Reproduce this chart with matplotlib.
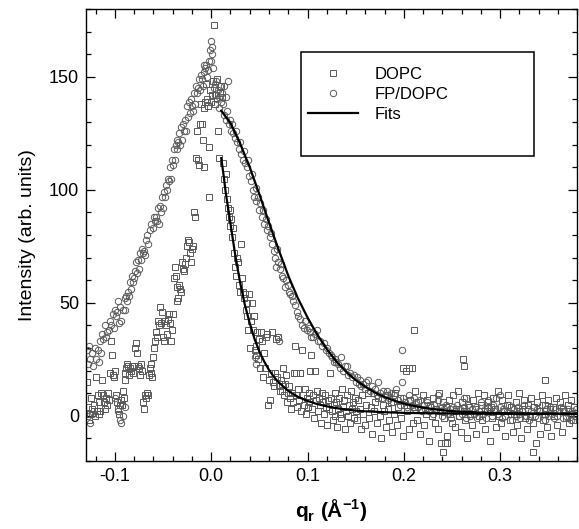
import matplotlib
matplotlib.use('Agg')
import matplotlib.pyplot as plt
from matplotlib.lines import Line2D
from matplotlib.patches import Rectangle
from matplotlib.ticker import MultipleLocator

plt.rcParams['font.family'] = ['Liberation Sans', 'DejaVu Sans']
plt.rcParams['mathtext.fontset'] = 'custom'
plt.rcParams['mathtext.rm'] = 'Liberation Sans'
plt.rcParams['mathtext.bf'] = 'Liberation Sans:bold'

# FP/DOPC (circles)
fp_rise_q = [
    -0.129, -0.128, -0.127, -0.126, -0.124, -0.123, -0.121, -0.120, -0.118, -0.117,
    -0.115, -0.114, -0.113, -0.112, -0.110, -0.109, -0.108, -0.106, -0.105, -0.104,
    -0.102, -0.101, -0.100, -0.099, -0.098, -0.097, -0.096, -0.095, -0.094, -0.092,
    -0.090, -0.089, -0.088, -0.087, -0.086, -0.085, -0.084, -0.083, -0.082, -0.081,
    -0.080, -0.079, -0.078, -0.077, -0.076, -0.075, -0.074, -0.073, -0.072, -0.071,
    -0.070, -0.069, -0.068, -0.067, -0.066, -0.064, -0.062, -0.060, -0.059, -0.058,
    -0.057, -0.056, -0.055, -0.054, -0.053, -0.052, -0.051, -0.050, -0.049, -0.048,
    -0.047, -0.046, -0.045, -0.044, -0.043, -0.042, -0.041, -0.040, -0.039, -0.038,
    -0.037, -0.036, -0.035, -0.034, -0.033, -0.032, -0.031, -0.030, -0.029, -0.028,
    -0.027, -0.026, -0.025, -0.024, -0.023, -0.022, -0.021, -0.020, -0.019, -0.018,
    -0.017, -0.016, -0.015, -0.014, -0.013, -0.012, -0.011, -0.010, -0.009, -0.008,
    -0.007, -0.006, -0.005, -0.004, -0.003, -0.002, -0.001, 0.000, 0.001, 0.002,
    0.003, 0.004, 0.005, 0.006, 0.007, 0.008, 0.009, 0.010, 0.011, 0.012]
fp_rise_i = [
    29, 23, 31, 25, 28, 22, 30, 25, 29, 24,
    33, 28, 36, 34, 40, 35, 37, 38, 42, 40,
    45, 39, 47, 44, 46, 51, 41, 48, 42, 47,
    52, 47, 53, 51, 55, 53, 59, 56, 62, 59,
    61, 64, 68, 63, 69, 65, 72, 69, 74, 72,
    73, 71, 78, 80, 76, 82, 85, 83, 88, 86,
    88, 86, 92, 85, 93, 90, 97, 92, 99, 97,
    102, 100, 105, 104, 110, 105, 113, 111, 118, 113,
    120, 118, 122, 121, 125, 120, 128, 122, 129, 126,
    131, 126, 137, 132, 139, 134, 140, 137, 135, 143,
    138, 146, 143, 145, 149, 144, 151, 149, 146, 155,
    152, 154, 155, 150, 153, 157, 162, 166, 163, 154,
    145, 142, 148, 140, 144, 141, 146, 139, 143, 138]

fp_peak_q = [-0.004, -0.0005, 0.001, 0.004, 0.008, 0.013, 0.015, 0.017]
fp_peak_i = [139, 157, 160, 147, 136, 146, 141, 148]

fp_decay_q = [
    0.013, 0.015, 0.016, 0.018, 0.019, 0.021, 0.022, 0.023, 0.025, 0.026,
    0.027, 0.029, 0.030, 0.031, 0.033, 0.034, 0.035, 0.037, 0.038, 0.039,
    0.041, 0.042, 0.043, 0.044, 0.046, 0.047, 0.049, 0.050, 0.051, 0.053,
    0.054, 0.055, 0.057, 0.058, 0.059, 0.061, 0.062, 0.063, 0.065, 0.066,
    0.067, 0.068, 0.069, 0.071, 0.072, 0.074, 0.075, 0.077, 0.078, 0.080,
    0.081, 0.082, 0.084, 0.085, 0.087, 0.089, 0.090, 0.092, 0.094, 0.096,
    0.097, 0.099, 0.101, 0.103, 0.104, 0.106, 0.108, 0.110, 0.111, 0.113,
    0.115, 0.117, 0.119, 0.120, 0.122, 0.124, 0.125, 0.127, 0.129, 0.130,
    0.132, 0.134, 0.135, 0.137, 0.139, 0.141, 0.142, 0.144, 0.146, 0.148,
    0.150, 0.151, 0.153, 0.154, 0.156, 0.158, 0.160, 0.161, 0.163, 0.165,
    0.167, 0.168, 0.170, 0.172, 0.173, 0.175, 0.177, 0.178, 0.180, 0.182,
    0.184, 0.185, 0.187, 0.189, 0.190, 0.192, 0.194, 0.196, 0.198, 0.199,
    0.201, 0.203, 0.205, 0.206, 0.208, 0.210, 0.212, 0.213, 0.215, 0.217,
    0.219, 0.221, 0.222, 0.224, 0.226, 0.228, 0.230, 0.231, 0.233, 0.235,
    0.237, 0.239, 0.240, 0.242, 0.244, 0.246, 0.248, 0.249]
fp_decay_i = [
    133, 131, 135, 129, 131, 126, 129, 125, 123, 126,
    121, 118, 121, 116, 113, 117, 112, 110, 113, 106,
    104, 107, 100, 97, 101, 95, 97, 91, 94, 88,
    91, 85, 87, 82, 84, 79, 81, 76, 73, 70,
    66, 74, 68, 65, 67, 62, 61, 57, 60, 58,
    55, 54, 53, 51, 49, 46, 44, 43, 40, 39,
    42, 38, 39, 37, 35, 35, 36, 38, 33, 33,
    31, 32, 29, 30, 28, 27, 26, 24, 25, 24,
    23, 21, 26, 20, 22, 22, 18, 19, 17, 18,
    15, 17, 14, 16, 13, 14, 12, 15, 16, 11,
    13, 10, 12, 9, 15, 10, 8, 11, 9, 11,
    7, 8, 10, 6, 9, 12, 7, 5, 15, 8,
    6, 4, 9, 7, 5, 8, 3, 6, 4, 7,
    2, 5, 3, 6, 2, 4, 1, 5, 3, 7,
    2, 4, 0, 3, 5, 1, 3, -1]

fp_tail_q = [
    0.251, 0.253, 0.255, 0.257, 0.258, 0.260, 0.262, 0.264, 0.266, 0.267,
    0.269, 0.271, 0.273, 0.275, 0.276, 0.278, 0.280, 0.282, 0.284, 0.285,
    0.287, 0.289, 0.291, 0.293, 0.294, 0.296, 0.298, 0.300, 0.302, 0.303,
    0.305, 0.307, 0.309, 0.311, 0.312, 0.314, 0.316, 0.318, 0.320, 0.321,
    0.323, 0.325, 0.327, 0.329, 0.330, 0.332, 0.334, 0.336, 0.338, 0.339,
    0.341, 0.343, 0.345, 0.347, 0.348, 0.350, 0.352, 0.354, 0.356, 0.357,
    0.359, 0.361, 0.363, 0.365, 0.366, 0.368, 0.370, 0.372, 0.374, 0.375,
    0.377, 0.379]
fp_tail_i = [
    4, 2, 5, 0, 3, 1, 4, -1, 2, 5,
    0, 3, 1, 4, -1, 2, 6, 1, 3, -1,
    4, 2, 0, 5, 2, 8, 1, 4, -1, 3,
    0, 2, 5, 1, -2, 3, 0, 4, 1, -1,
    2, 5, 0, 3, -2, 2, 4, 0, 3, -1,
    2, 5, 1, -2, 3, 0, 4, 1, -1, 3,
    0, 2, 4, -1, 2, 0, 3, 1, -2, 2,
    0, 3]

fp_odd_q = [-0.128, -0.126, -0.124, -0.0995, -0.097, -0.095, -0.094, -0.092, -0.090,
            0.045, 0.046, 0.069, 0.070, 0.1976, 0.235, 0.262, 0.300, 0.287]
fp_odd_i = [0, -3, 1, 8, 2, -2, -3, 0, 4, 26, 23, 35, 33, 29, 9, 8, 9, 7]

# DOPC (squares)
dopc_left_q = [
    -0.129, -0.128, -0.127, -0.126, -0.125, -0.124, -0.122, -0.121, -0.120, -0.119,
    -0.118, -0.117, -0.116, -0.115, -0.114, -0.113, -0.112, -0.111, -0.110, -0.109,
    -0.108, -0.107, -0.106, -0.105, -0.104, -0.103, -0.102, -0.101, -0.100, -0.099,
    -0.098, -0.097, -0.096, -0.095, -0.094, -0.093, -0.092, -0.091, -0.090, -0.089,
    -0.088, -0.087, -0.086, -0.085, -0.084, -0.083, -0.082, -0.081, -0.080, -0.079,
    -0.078, -0.077, -0.076, -0.075, -0.074, -0.073, -0.072, -0.071, -0.070, -0.069,
    -0.068, -0.067, -0.066, -0.065, -0.064, -0.063, -0.062, -0.061, -0.060, -0.059,
    -0.058, -0.057, -0.056, -0.055, -0.054, -0.053, -0.052, -0.051, -0.050, -0.049,
    -0.048, -0.047, -0.046, -0.045, -0.044, -0.043, -0.042, -0.041, -0.040, -0.039,
    -0.038, -0.037, -0.036, -0.035, -0.034, -0.033, -0.032, -0.031, -0.030, -0.029,
    -0.028, -0.027, -0.026, -0.025, -0.024, -0.023, -0.022, -0.021, -0.020, -0.019,
    -0.018, -0.017, -0.016, -0.015, -0.014, -0.013, -0.012, -0.011, -0.010, -0.009,
    -0.008, -0.007, -0.006, -0.005, -0.004, -0.003, -0.002, -0.001, 0.000, 0.001,
    0.002, 0.003, 0.004, 0.005, 0.006, 0.007, 0.008, 0.009, 0.010, 0.011]
dopc_left_i = [
    15, 4, -2, 1, 8, 3, 5, 0, 17, 2,
    9, 1, 6, 2, 10, 16, 9, 6, 3, 8,
    5, 10, 7, 19, 33, 27, 18, 17, 20, 9,
    6, 3, 1, 5, 7, 5, 11, 8, 16, 19,
    21, 23, 22, 18, 21, 20, 22, 19, 22, 30,
    32, 28, 22, 21, 18, 23, 20, 6, 3, 9,
    8, 10, 9, 18, 21, 19, 23, 17, 26, 30,
    33, 37, 35, 42, 40, 48, 41, 46, 35, 33,
    42, 40, 36, 43, 45, 41, 33, 38, 45, 61,
    66, 62, 51, 57, 52, 58, 56, 55, 68, 65,
    64, 67, 70, 75, 78, 77, 72, 68, 74, 75,
    90, 88, 114, 126, 113, 111, 129, 138, 129, 122,
    110, 136, 139, 147, 140, 137, 119, 144, 139, 142,
    148, 173, 138, 142, 149, 126, 114, 143, 146, 141]

dopc_fall_q = [
    0.012, 0.013, 0.014, 0.015, 0.016, 0.017, 0.018, 0.019, 0.020, 0.021,
    0.022, 0.023, 0.024, 0.025, 0.026, 0.027, 0.028, 0.029, 0.030, 0.031,
    0.032, 0.033, 0.034, 0.035, 0.036, 0.037, 0.037, 0.038, 0.039, 0.040,
    0.041, 0.042, 0.043, 0.044, 0.045, 0.046, 0.047, 0.048, 0.049, 0.050,
    0.051, 0.052, 0.053, 0.054, 0.055, 0.056, 0.057, 0.058, 0.059, 0.060,
    0.061, 0.062, 0.063, 0.064, 0.065, 0.066, 0.067, 0.068, 0.069, 0.070,
    0.071, 0.072, 0.073, 0.074, 0.075, 0.076, 0.077, 0.078, 0.079, 0.080]
dopc_fall_i = [
    112, 105, 100, 107, 96, 92, 88, 91, 84, 87,
    79, 83, 72, 66, 62, 70, 68, 58, 55, 76,
    61, 55, 52, 54, 47, 50, 44, 38, 54, 30,
    42, 50, 38, 44, 29, 31, 27, 37, 25, 34,
    21, 37, 33, 17, 28, 21, 35, 36, 5, 16,
    7, 19, 37, 15, 13, 19, 34, 17, 35, 13,
    11, 16, 11, 14, 21, 9, 14, 18, 6, 10]

dopc_mid_q = [
    0.081, 0.082, 0.083, 0.084, 0.085, 0.086, 0.087, 0.088, 0.089, 0.090,
    0.091, 0.092, 0.093, 0.094, 0.095, 0.096, 0.097, 0.098, 0.099, 0.100,
    0.101, 0.102, 0.103, 0.104, 0.105, 0.106, 0.107, 0.108, 0.109, 0.110,
    0.111, 0.112, 0.113, 0.114, 0.115, 0.116, 0.117, 0.118, 0.119, 0.120,
    0.121, 0.122, 0.123, 0.124, 0.125, 0.126, 0.127, 0.128, 0.129, 0.130,
    0.131, 0.132, 0.133, 0.134, 0.135, 0.136, 0.137, 0.138, 0.139, 0.140,
    0.141, 0.142, 0.143, 0.144, 0.145, 0.146, 0.147, 0.148, 0.149, 0.150]
dopc_mid_i = [
    13, 8, 3, 10, 6, 19, 31, 9, 4, 12,
    7, 19, 2, 29, 9, 5, 12, 1, 8, 4,
    10, 6, 20, 27, 3, 9, -1, 20, 7, 11,
    2, 8, 5, -3, 10, 6, 1, 9, 4, -4,
    7, 3, 19, 8, 2, -2, 5, 10, 0, 6,
    -5, 3, 8, 1, -1, 12, 4, 7, -6, 2,
    9, 0, 5, -3, 11, 3, 6, -1, 8, 2]

dopc_tail_q = [
    0.151, 0.152, 0.154, 0.155, 0.157, 0.158, 0.160, 0.161, 0.163, 0.164,
    0.166, 0.167, 0.169, 0.170, 0.172, 0.173, 0.175, 0.176, 0.178, 0.179,
    0.181, 0.182, 0.184, 0.185, 0.187, 0.188, 0.190, 0.191, 0.193, 0.194,
    0.196, 0.197, 0.199, 0.200, 0.202, 0.203, 0.205, 0.206, 0.208, 0.209,
    0.211, 0.212, 0.214, 0.215, 0.217, 0.218, 0.220, 0.221, 0.223, 0.224,
    0.226, 0.227, 0.229, 0.230, 0.232, 0.233, 0.235, 0.236, 0.238, 0.239,
    0.241, 0.242, 0.244, 0.245, 0.247, 0.248, 0.250, 0.251, 0.253, 0.254,
    0.256, 0.257, 0.259, 0.260, 0.262, 0.263, 0.265, 0.266, 0.268, 0.269,
    0.271, 0.272, 0.274, 0.275, 0.277, 0.278, 0.280, 0.281, 0.283, 0.284,
    0.286, 0.287, 0.289, 0.290, 0.292, 0.293, 0.295, 0.296, 0.298, 0.299,
    0.301, 0.302, 0.304, 0.305, 0.307, 0.308, 0.310, 0.311, 0.313, 0.314,
    0.316, 0.317, 0.319, 0.320, 0.322, 0.323, 0.325, 0.326, 0.328, 0.329,
    0.331, 0.332, 0.334, 0.335, 0.337, 0.338, 0.340, 0.341, 0.343, 0.344,
    0.346, 0.347, 0.349, 0.350, 0.352, 0.353, 0.355, 0.356, 0.358, 0.359,
    0.361, 0.362, 0.364, 0.365, 0.367, 0.368, 0.370, 0.371, 0.373, 0.374,
    0.376, 0.377, 0.379]
dopc_tail_i = [
    -2, 7, 3, -6, 9, 1, -4, 5, 10, -1,
    4, -8, 2, 6, -3, 8, 0, -10, 5, 2,
    -5, 9, 3, -2, 6, -7, 1, 10, -4, 4,
    8, -1, -9, 5, 20, 2, -6, 7, 21, -3,
    4, 11, -2, 6, -8, 3, 9, -4, 1, 7,
    -11, 5, 0, 8, -3, 3, -6, 10, 2, -12,
    6, -1, 4, -9, 7, 1, -3, 9, -5, 3,
    11, 0, -7, 6, 2, -2, 8, -10, 4, 1,
    -4, 7, 3, -8, 10, 0, 5, -2, 9, -6,
    2, 6, -11, 4, -1, 8, 3, -5, 11, 0,
    -3, 7, 2, -9, 5, 9, -2, 4, -7, 1,
    6, -4, 10, 2, -10, 3, 7, -1, -6, 5,
    0, 8, -3, 4, -12, 6, 2, -8, 9, -2,
    5, 1, -5, 7, 3, -9, 4, 0, 8, -4,
    2, 6, -7, 3, 9, -1, 5, -3, 1, 7,
    -2, 4, 0]

dopc_odd_q = [0.210, 0.261, 0.262, 0.346, 0.241, 0.334, 0.199, 0.205, 0.243, 0.245,
              -0.0024, 0.088, 0.092]
dopc_odd_i = [38, 25, 22, 16, -16, -16, 21, 21, -12, -12, 97, 19, 19]

# fitted curves
fit_dopc_q = [0.0104, 0.013, 0.015, 0.0175, 0.02, 0.0225, 0.025, 0.0275, 0.03,
              0.035, 0.04, 0.045, 0.05, 0.055, 0.06, 0.065, 0.07,
              0.08, 0.09, 0.10, 0.11, 0.12, 0.13, 0.14, 0.15, 0.16,
              0.18, 0.20, 0.25, 0.30, 0.38]
fit_dopc_i = [114, 106, 99, 92, 85, 78, 71, 65, 59,
              49, 41, 34, 28.5, 24, 20.3, 17.3, 14.8,
              11, 8.4, 6.6, 5.2, 4.2, 3.4, 2.8, 2.3, 2.0,
              1.6, 1.3, 1.0, 0.9, 0.9]

fit_fp_q = [0.0104, 0.02, 0.03, 0.04, 0.05, 0.06, 0.07, 0.08, 0.09, 0.10,
            0.11, 0.12, 0.13, 0.14, 0.15, 0.16, 0.17, 0.18, 0.19, 0.20,
            0.21, 0.22, 0.23, 0.24, 0.25, 0.26, 0.28, 0.30, 0.33, 0.38]
fit_fp_i = [135, 129.5, 120.5, 110, 98, 85.5, 73.5, 62, 52, 43.5,
            36, 29.5, 24, 19.5, 15.8, 12.8, 10.3, 8.3, 6.7, 5.4,
            4.4, 3.6, 3.0, 2.5, 2.1, 1.8, 1.4, 1.2, 1.0, 0.9]

dopc_q = dopc_left_q + dopc_fall_q + dopc_mid_q + dopc_tail_q + dopc_odd_q
dopc_i = dopc_left_i + dopc_fall_i + dopc_mid_i + dopc_tail_i + dopc_odd_i
fp_q = fp_rise_q + fp_peak_q + fp_decay_q + fp_tail_q + fp_odd_q
fp_i = fp_rise_i + fp_peak_i + fp_decay_i + fp_tail_i + fp_odd_i

grey = '#5a5a5a'
sq_style = dict(ls='none', marker='s', ms=4.2, mfc='none', mec=grey, mew=0.7)
ci_style = dict(ls='none', marker='o', ms=4.6, mfc='none', mec=grey, mew=0.7)

fig = plt.figure(figsize=(5.79, 5.29), dpi=100)
ax = fig.add_axes([0.1485, 0.1285, 0.8485, 0.8545])

ax.plot(dopc_q, dopc_i, **sq_style)
ax.plot(fp_q, fp_i, **ci_style)
ax.plot(fit_dopc_q, fit_dopc_i, color='black', lw=1.6)
ax.plot(fit_fp_q, fit_fp_i, color='black', lw=1.6)

ax.set_xlim(-0.13, 0.38)
ax.set_ylim(-20, 180)
ax.xaxis.set_minor_locator(MultipleLocator(0.02))
ax.yaxis.set_minor_locator(MultipleLocator(10))
ax.set_xticks([-0.1, 0.0, 0.1, 0.2, 0.3])
ax.set_xticklabels(['-0.1', '0.0', '0.1', '0.2', '0.3'])
ax.set_yticks([0, 50, 100, 150])
ax.tick_params(which='both', direction='in', top=True, right=True,
               width=0.9, labelsize=13, pad=5)
ax.tick_params(which='major', length=6.5)
ax.tick_params(which='minor', length=3.8)
for s in ax.spines.values():
    s.set_linewidth(1.0)

ax.set_ylabel('Intensity (arb. units)', fontsize=14, labelpad=9)
ax.set_xlabel(r'q$_\mathbf{r}$ (Å$^\mathbf{-1}$)', fontsize=15,
              fontweight='bold', labelpad=9)

handles = [Line2D([], [], **sq_style), Line2D([], [], **ci_style),
           Line2D([], [], color='black', lw=1.6)]
ax.legend(handles, ['DOPC', 'FP/DOPC', 'Fits'], loc='upper left',
          bbox_to_anchor=(0.451, 0.872), frameon=False, borderpad=0,
          borderaxespad=0, handlelength=3.0, handletextpad=1.0,
          labelspacing=0.3, fontsize=12, numpoints=1)
ax.add_patch(Rectangle((0.437, 0.675), 0.4756, 0.23, transform=ax.transAxes,
                       fill=False, ec='black', lw=1.1, zorder=5))

fig.savefig('out.png', dpi=100)
